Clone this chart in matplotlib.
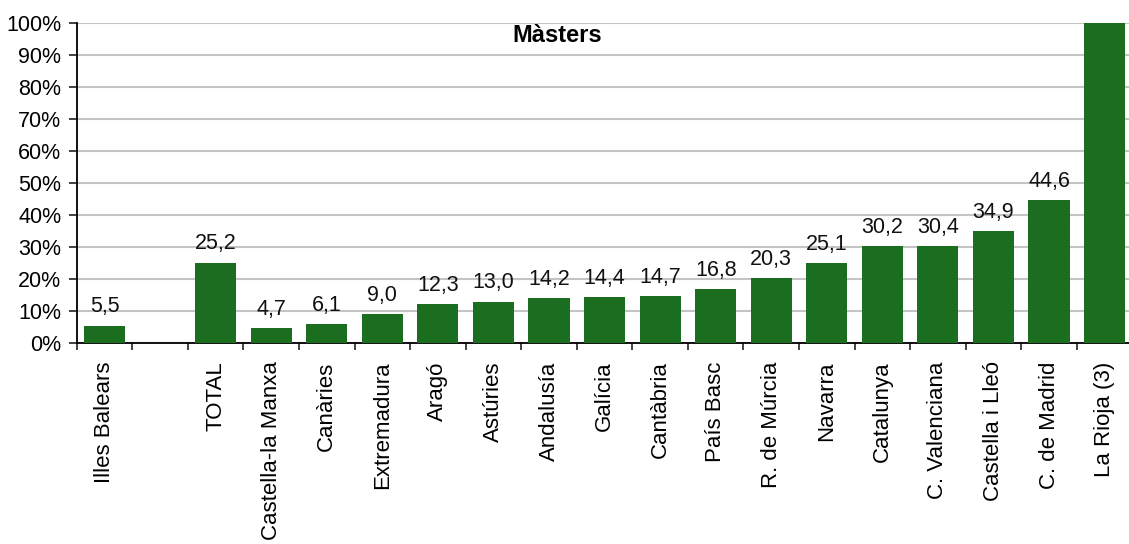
import numpy as np
from matplotlib import pyplot as plt
from matplotlib.ticker import FixedLocator

plt.rcParams['font.family'] = ['Liberation Sans', 'DejaVu Sans']

# categories (blank slot after Illes Balears, as in the original)
regions = ["Illes Balears", "", "TOTAL", "Castella-la Manxa", "Canàries",
           "Extremadura", "Aragó", "Astúries", "Andalusía", "Galícia",
           "Cantàbria", "País Basc", "R. de Múrcia", "Navarra", "Catalunya",
           "C. Valenciana", "Castella i Lleó", "C. de Madrid", "La Rioja (3)"]
values = [5.5, None, 25.2, 4.7, 6.1, 9.0, 12.3, 13.0, 14.2, 14.4, 14.7,
          16.8, 20.3, 25.1, 30.2, 30.4, 34.9, 44.6, 100.0]
labels = ["5,5", "", "25,2", "4,7", "6,1", "9,0", "12,3", "13,0", "14,2",
          "14,4", "14,7", "16,8", "20,3", "25,1", "30,2", "30,4", "34,9",
          "44,6", ""]

green = '#1b6e1f'

fig = plt.figure(figsize=(11.29, 5.44), dpi=100)
ax = fig.add_axes([0.068, 0.369, 0.935, 0.589])

x = np.arange(len(regions))
for i, v in enumerate(values):
    if v is None:
        continue
    ax.bar(x[i], v, width=0.74, color=green, zorder=3)
    if labels[i]:
        ax.annotate(labels[i], (x[i], v), xytext=(0, 9.5), textcoords='offset points',
                    ha='center', va='baseline', fontsize=15.5, color='#111111')

ax.set_xlim(-0.5, len(regions) - 0.5)
ax.set_ylim(0, 100)
ax.set_yticks(np.arange(0, 101, 10))
ax.set_yticklabels([f"{t}%" for t in range(0, 101, 10)], fontsize=15.5)
ax.yaxis.grid(True, color='#c4c4c4', linewidth=1.5, zorder=0)
ax.set_axisbelow(True)

ax.set_xticks(x)
ax.set_xticklabels(regions, rotation=90, fontsize=16, va='top')
ax.tick_params(axis='x', which='major', length=0, pad=13)
ax.xaxis.set_minor_locator(FixedLocator(np.arange(-0.5, len(regions), 1)))
ax.tick_params(axis='x', which='minor', length=5, width=1.2, color='#222222')
ax.tick_params(axis='y', length=6, width=1.2, pad=5, color='#222222')

for s in ['top', 'right']:
    ax.spines[s].set_visible(False)
ax.spines['left'].set_linewidth(1.3)
ax.spines['bottom'].set_linewidth(1.3)
ax.axhline(100, color='#eeeeee', linewidth=1.2, zorder=0)

ax.text(8.15, 96, "Màsters", ha='center', va='center', fontsize=17,
        fontweight='bold')

fig.savefig("out.png", dpi=100)
